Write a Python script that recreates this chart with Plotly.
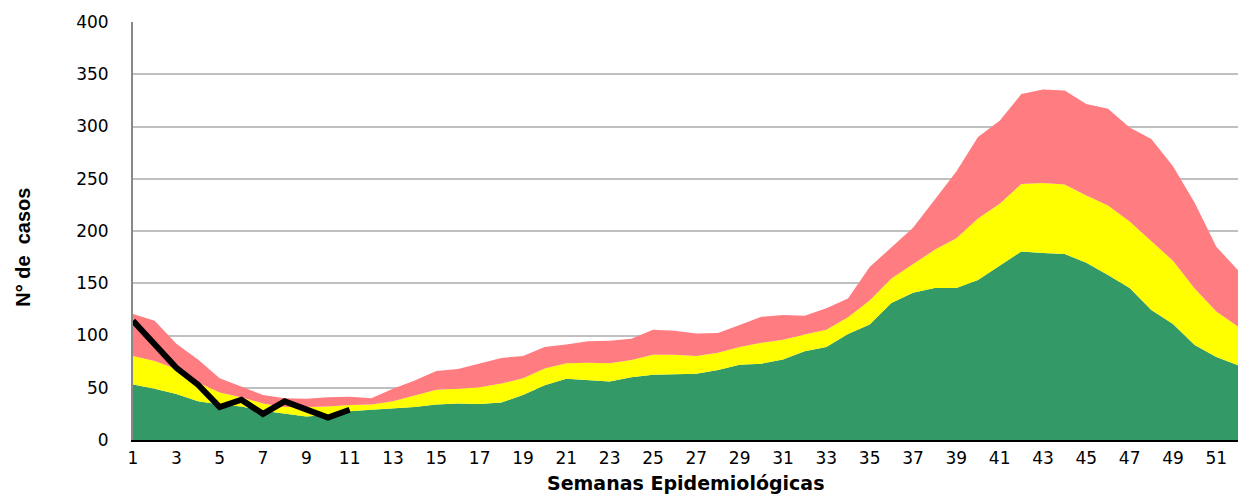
import plotly.graph_objects as go

weeks = list(range(1, 53))

# upper boundary of each zone (cumulative values)
zona_exito = [53, 49, 44, 37, 34, 32, 28, 25, 22.5, 24, 27.5, 29, 30, 31.5, 34, 35, 34.5, 36, 43, 52.5,
              58.5, 57.5, 56, 60, 62.5, 63, 63.5, 67, 72, 73, 77, 85, 89, 101.5, 110.5, 131, 141, 145.5,
              145.5, 153, 166.5, 180.5, 179, 178, 169.5, 158, 145.5, 124.5, 111, 91, 79.5, 71.5]
zona_seguridad = [80.5, 75.5, 68, 55, 45.5, 41, 35, 31.5, 31.5, 32, 33.5, 34, 37, 42.5, 48, 49, 50.5, 54,
                  59, 68.5, 73.5, 74, 73.5, 76.5, 81.5, 81.5, 80.5, 83.5, 89, 93, 96, 101, 105.5, 117.5,
                  133.5, 154.5, 168.5, 182, 193, 212, 226, 245, 246, 244.5, 234, 224.5, 209, 190, 171.5,
                  145, 123, 108.5]
zona_alerta = [120.5, 114, 92, 77, 59, 51, 43, 40, 39.5, 41, 41.5, 40, 49, 57, 66, 68, 73, 78.5, 80.5, 89,
               91.5, 94.5, 95, 97, 105.5, 104.5, 102, 102.5, 110, 118, 119.5, 119, 126, 135.5, 165.5,
               184.5, 203, 230, 257, 290, 305.5, 331, 335.5, 334.5, 321.5, 317, 299, 288, 262, 227, 185,
               162.5]

casos_weeks = list(range(1, 12))
casos = [114, 91, 69, 53, 31.5, 38.5, 25, 37, 30, 21.5, 29]

x_ticks = list(range(1, 52, 2))
y_ticks = list(range(0, 401, 50))

fig = go.Figure()
fig.add_trace(go.Scatter(x=weeks, y=zona_exito, mode="lines", line=dict(width=0),
                         fill="tozeroy", fillcolor="#339966", name="Éxito", hoverinfo="skip"))
fig.add_trace(go.Scatter(x=weeks, y=zona_seguridad, mode="lines", line=dict(width=0),
                         fill="tonexty", fillcolor="#FFFF00", name="Seguridad", hoverinfo="skip"))
fig.add_trace(go.Scatter(x=weeks, y=zona_alerta, mode="lines", line=dict(width=0),
                         fill="tonexty", fillcolor="#FF7C80", name="Alerta", hoverinfo="skip"))
fig.add_trace(go.Scatter(x=casos_weeks, y=casos, mode="lines",
                         line=dict(color="black", width=6), name="Casos"))

fig.update_layout(
    width=1252, height=497,
    margin=dict(l=133, r=14, t=16, b=57),
    paper_bgcolor="white", plot_bgcolor="white",
    showlegend=False,
    font=dict(family="DejaVu Sans", color="black"),
)
fig.update_xaxes(
    range=[1, 52], tickmode="array", tickvals=x_ticks, ticktext=[str(t) for t in x_ticks],
    showgrid=False, zeroline=False, showline=True, linecolor="black", linewidth=2,
    ticks="", ticklabelstandoff=2, tickfont=dict(family="DejaVu Sans", size=17, color="black"),
)
fig.update_yaxes(
    range=[0, 400], tickmode="array", tickvals=y_ticks,
    showgrid=True, gridcolor="#C0C0C0", gridwidth=1.5, zeroline=False,
    showline=True, linecolor="#888888", linewidth=2,
    ticks="", ticklabelstandoff=19, tickfont=dict(family="DejaVu Sans", size=17, color="black"),
)
fig.add_annotation(text="<b>Semanas Epidemiológicas</b>", xref="paper", yref="paper",
                   x=0.5, y=-0.103, xanchor="center", yanchor="middle", showarrow=False,
                   font=dict(family="DejaVu Sans", size=19, color="black"))
fig.add_annotation(text="<b>N° de&nbsp;&nbsp;casos</b>", xref="paper", yref="paper",
                   x=-0.0995, y=0.46, xanchor="center", yanchor="middle", showarrow=False,
                   textangle=-90, font=dict(family="Liberation Sans", size=20, color="black"))

fig.write_html("out.html", config={"displayModeBar": False},
               post_script="document.body.style.margin='0';")
